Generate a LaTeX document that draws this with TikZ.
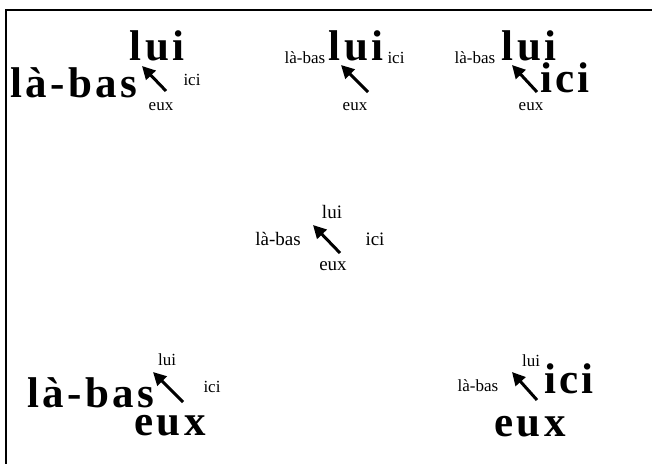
\documentclass[tikz,border=0pt]{standalone}
\usepackage{fontspec}
\setmainfont{Liberation Serif}
\usetikzlibrary{arrows.meta}
\tikzset{
  lbl/.style={anchor=base,inner sep=0pt},
  big/.style={lbl,font=\fontsize{43}{43}\selectfont\bfseries\addfontfeature{LetterSpace=8}},
  sm/.style={lbl,font=\fontsize{17}{17}\selectfont},
  mid/.style={lbl,font=\fontsize{19}{19}\selectfont},
  pointer/.style={line width=3pt,-{Triangle[length=13pt,width=13pt]}},
  frame/.style={line width=2pt}
}
\begin{document}
\begin{tikzpicture}[x=1pt,y=-1pt]
\useasboundingbox (0,0) rectangle (652,464);
\coordinate (fa) at (652,10);
\coordinate (fb) at (6,10);
\coordinate (fc) at (6,464);
\draw[frame] (fa) -- (fb) -- (fc);
% group 1
\node[big] (lui1) at (157,60) {lui};
\node[big] (labas1) at (74,97) {là-bas};
\node[sm] (ici1) at (192,85) {ici};
\node[sm] (eux1) at (161,110) {eux};
\coordinate (t1) at (166,91); \coordinate (h1) at (142,66);
\draw[pointer] (t1) -- (h1);
% group 2
\node[big] (lui2) at (356,60) {lui};
\node[sm] (labas2) at (305,63) {là-bas};
\node[sm] (ici2) at (396,63) {ici};
\node[sm] (eux2) at (355,110) {eux};
\coordinate (t2) at (368,92); \coordinate (h2) at (341,65);
\draw[pointer] (t2) -- (h2);
% group 3
\node[big] (lui3) at (529,60) {lui};
\node[sm] (labas3) at (475,63) {là-bas};
\node[big] (ici3) at (565,92) {ici};
\node[sm] (eux3) at (531,110) {eux};
\coordinate (t3) at (537,92); \coordinate (h3) at (512,65);
\draw[pointer] (t3) -- (h3);
% group 4
\node[mid] (lui4) at (332,218) {lui};
\node[mid] (labas4) at (278,245) {là-bas};
\node[mid] (ici4) at (375,245) {ici};
\node[mid] (eux4) at (333,270) {eux};
\coordinate (t4) at (340,253); \coordinate (h4) at (313,225);
\draw[pointer] (t4) -- (h4);
% group 5
\node[sm] (lui5) at (167,365) {lui};
\node[big] (labas5) at (91,407) {là-bas};
\node[sm] (ici5) at (212,392) {ici};
\node[big] (eux5) at (170,435) {eux};
\coordinate (t5) at (183,402); \coordinate (h5) at (153,372);
\draw[pointer] (t5) -- (h5);
% group 6
\node[sm] (lui6) at (531,366) {lui};
\node[sm] (labas6) at (478,391) {là-bas};
\node[big] (ici6) at (569,393) {ici};
\node[big] (eux6) at (530,436) {eux};
\coordinate (t6) at (537,400); \coordinate (h6) at (512,372);
\draw[pointer] (t6) -- (h6);
\end{tikzpicture}
\end{document}
